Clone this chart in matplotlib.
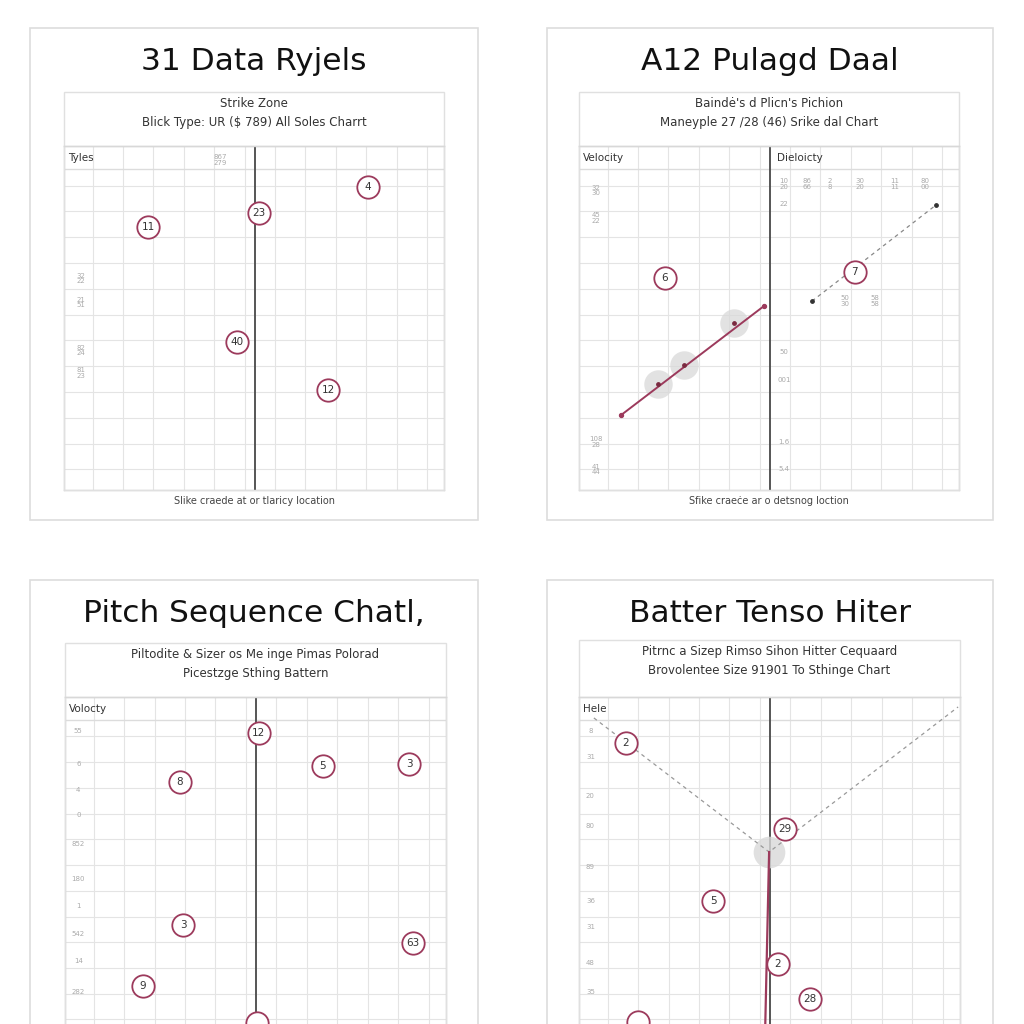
import numpy as np
import matplotlib
matplotlib.use("Agg")
import matplotlib.pyplot as plt
from matplotlib.patches import Rectangle
from matplotlib.lines import Line2D

# --- data (axes units 0..10) ---
titles = ["31 Data Ryjels", "A12 Pulagd Daal", "Pitch Sequence Chatl,", "Batter Tenso Hiter"]
subtitles = [
    "Strike Zone\nBlick Type: UR ($ 789) All Soles Charrt",
    "Baindė's d Plicn's Pichion\nManeyple 27 /28 (46) Srike dal Chart",
    "Piltodite & Sizer os Me inge Pimas Polorad\nPicestzge Sthing Battern",
    "Pitrnc a Sizep Rimso Sihon Hitter Cequaard\nBrovolentee Size 91901 To Sthinge Chart",
]
headers = ["Tyles", "Velocity", "Volocty", "Hele"]
captions = ["Slike craede at or tlaricy location", "Sfike craeċe ar o detsnog loction", "", ""]

p1_x = [8.0, 5.13, 2.21, 4.55, 6.95]
p1_y = [8.81, 8.05, 7.65, 4.30, 2.91]
p1_lab = ["4", "23", "11", "40", "12"]

p2_line_x = [1.11, 4.87]
p2_line_y = [2.18, 5.35]
p2_shadow_x = [2.08, 2.76, 4.08]
p2_shadow_y = [3.08, 3.63, 4.85]
p2_x = [2.26, 7.26]
p2_y = [6.16, 6.34]
p2_lab = ["6", "7"]
p2_dash_x = [6.13, 9.39]
p2_dash_y = [5.49, 8.28]

# last circle sits on the bottom edge, its number is cut off in the picture
p3_x = [5.09, 6.77, 9.03, 3.02, 3.10, 9.13, 2.05, 5.04]
p3_y = [8.95, 7.99, 8.05, 7.52, 3.35, 2.83, 1.57, 0.50]
p3_lab = ["12", "5", "3", "8", "3", "63", "9", ""]

p4_dash_x = [0.39, 4.99, 9.95]
p4_dash_y = [9.39, 5.48, 9.71]
p4_solid_x = [4.99, 4.88]
p4_solid_y = [5.48, 0.0]
p4_x = [1.23, 5.41, 3.52, 5.22, 6.06, 1.55]
p4_y = [8.66, 6.15, 4.05, 2.22, 1.20, 0.52]
p4_lab = ["2", "29", "5", "2", "28", ""]

# faint left-hand tick labels (y in axes units)
p1_ticks_y = [6.15, 5.45, 4.05, 3.40]
p1_ticks = ["32\n22", "21\n51", "82\n24", "81\n23"]
p2_ticks_y = [8.7, 7.9, 1.4, 0.6]
p2_ticks = ["32\n30", "45\n22", "108\n28", "41\n44"]
p2r_ticks_y = [8.3, 4.0, 3.2, 1.4, 0.6]
p2r_ticks = ["22", "50", "001", "1.6", "5.4"]
p2top_x = [5.4, 6.0, 6.6, 7.4, 8.3, 9.1]
p2top = ["10\n20", "86\n66", "2\n8", "30\n20", "11\n11", "80\n00"]
p3_ticks_y = [9.0, 8.05, 7.3, 6.55, 5.7, 4.7, 3.9, 3.1, 2.3, 1.4]
p3_ticks = ["55", "6", "4", "0", "852", "180", "1", "542", "14", "282"]
p4_ticks_y = [9.0, 8.25, 7.1, 6.25, 5.05, 4.05, 3.3, 2.25, 1.4]
p4_ticks = ["8", "31", "20", "80", "89", "36", "31", "48", "35"]

MAROON = "#9c3a5c"
GRID = "#e4e4e4"

fig = plt.figure(figsize=(10.24, 10.24), dpi=100)
fig.patch.set_facecolor("white")


def fbox(x0, y0, x1, y1):
    return [x0 / 1024, 1 - y1 / 1024, (x1 - x0) / 1024, (y1 - y0) / 1024]


def frect(x0, y0, x1, y1, ec, lw=1.0):
    b = fbox(x0, y0, x1, y1)
    fig.patches.append(Rectangle((b[0], b[1]), b[2], b[3], transform=fig.transFigure,
                                 fill=False, ec=ec, lw=lw, zorder=0))


def fline(x0, y0, x1, y1, c, lw=1.0):
    fig.add_artist(Line2D([x0 / 1024, x1 / 1024], [1 - y0 / 1024, 1 - y1 / 1024],
                          transform=fig.transFigure, color=c, lw=lw))


def ftext(x, y, s, **kw):
    fig.text(x / 1024, 1 - y / 1024, s, **kw)


def circles(ax, xs, ys, labs):
    ax.scatter(xs, ys, s=260, facecolor="white", edgecolor=MAROON, linewidth=1.3, zorder=5)
    for x, y, t in zip(xs, ys, labs):
        if t:
            ax.text(x, y, t, ha="center", va="center", fontsize=7.5, color="#333333", zorder=6)


def grid_axes(box, header, center):
    ax = fig.add_axes(fbox(*box))
    ax.set_xlim(0, 10)
    ax.set_ylim(0, 10)
    ax.set_xticks([])
    ax.set_yticks([])
    for s in ax.spines.values():
        s.set_color("#d4d4d4")
        s.set_linewidth(1.0)
    for gx in np.arange(0.75, 10, 0.8):
        ax.axvline(gx, color=GRID, lw=0.8, zorder=1)
    for gy in np.arange(0.6, 9.4, 0.75):
        ax.axhline(gy, color=GRID, lw=0.8, zorder=1)
    ax.axhline(9.33, color="#dcdcdc", lw=1.0, zorder=1)
    ax.text(0.1, 9.65, header, ha="left", va="center", fontsize=7.5, color="#333333")
    if center is not None:
        ax.axvline(center, color="#555555", lw=1.4, zorder=3)
    return ax


def faint(ax, x, ys, labs):
    for y, t in zip(ys, labs):
        ax.text(x, y, t, ha="center", va="center", fontsize=5, color="#aaaaaa",
                linespacing=0.9, zorder=2)


cards = [(30, 28, 478, 520), (547, 28, 993, 520), (30, 580, 478, 1040), (547, 580, 993, 1040)]
inner = [(64, 92, 444, 490), (579, 92, 959, 490), (65, 643, 446, 1045), (579, 640, 960, 1045)]
gridbox = [(64, 146, 444, 490), (579, 146, 959, 490), (65, 697, 446, 1040), (579, 697, 960, 1040)]

for i in range(4):
    cx0, cy0, cx1, cy1 = cards[i]
    frect(cx0, cy0, cx1, cy1, "#dddddd", 1.2)
    ix0, iy0, ix1, iy1 = inner[i]
    frect(ix0, iy0, ix1, iy1, "#e0e0e0", 1.0)
    fline(ix0, gridbox[i][1], ix1, gridbox[i][1], "#d8d8d8", 1.0)
    ftext((cx0 + cx1) / 2, cy0 + 33, titles[i], ha="center", va="center", fontsize=22.5,
          family=["Liberation Sans Narrow", "DejaVu Sans"], color="#111111")
    ftext((ix0 + ix1) / 2, iy0 + 21, subtitles[i], ha="center", va="center",
          fontsize=8.5, color="#333333", linespacing=1.55)
    if captions[i]:
        ftext((ix0 + ix1) / 2, iy1 + 11, captions[i], ha="center", va="center",
              fontsize=7, color="#444444")

# panel 1
ax1 = grid_axes(gridbox[0], headers[0], 5.03)
faint(ax1, 0.45, p1_ticks_y, p1_ticks)
ax1.text(4.1, 9.6, "867\n279", ha="center", va="center", fontsize=5, color="#aaaaaa", linespacing=0.9)
circles(ax1, p1_x, p1_y, p1_lab)

# panel 2
ax2 = grid_axes(gridbox[1], headers[1], 5.02)
ax2.text(5.2, 9.65, "Dieloicty", ha="left", va="center", fontsize=7.5, color="#333333")
faint(ax2, 0.45, p2_ticks_y, p2_ticks)
faint(ax2, 5.4, p2r_ticks_y, p2r_ticks)
for x, t in zip(p2top_x, p2top):
    ax2.text(x, 8.9, t, ha="center", va="center", fontsize=5, color="#aaaaaa", linespacing=0.9)
ax2.text(7.0, 5.5, "50\n30", ha="center", va="center", fontsize=5, color="#aaaaaa", linespacing=0.9)
ax2.text(7.8, 5.5, "58\n58", ha="center", va="center", fontsize=5, color="#aaaaaa", linespacing=0.9)
ax2.plot(p2_line_x, p2_line_y, color=MAROON, lw=1.4, zorder=4)
ax2.scatter(p2_line_x, p2_line_y, s=8, color=MAROON, zorder=4)
ax2.scatter(p2_shadow_x, p2_shadow_y, s=420, color="#d9d9d9", alpha=0.75, zorder=3, linewidths=0)
ax2.scatter(p2_shadow_x, p2_shadow_y, s=6, color="#7a2a40", zorder=5)
ax2.plot(p2_dash_x, p2_dash_y, color="#888888", lw=0.9, ls=(0, (3, 3)), zorder=4)
ax2.scatter(p2_dash_x, p2_dash_y, s=6, color="#333333", zorder=4)
circles(ax2, p2_x, p2_y, p2_lab)

# panel 3
ax3 = grid_axes(gridbox[2], headers[2], 5.0)
faint(ax3, 0.35, p3_ticks_y, p3_ticks)
circles(ax3, p3_x, p3_y, p3_lab)

# panel 4
ax4 = grid_axes(gridbox[3], headers[3], 5.0)
faint(ax4, 0.3, p4_ticks_y, p4_ticks)
ax4.plot(p4_dash_x, p4_dash_y, color="#999999", lw=0.9, ls=(0, (3, 3)), zorder=4)
ax4.plot(p4_solid_x, p4_solid_y, color=MAROON, lw=1.6, zorder=4)
ax4.scatter([p4_dash_x[1]], [p4_dash_y[1]], s=520, color="#d9d9d9", alpha=0.8, zorder=3, linewidths=0)
circles(ax4, p4_x, p4_y, p4_lab)

fig.savefig("out.png", dpi=100, facecolor="white")
